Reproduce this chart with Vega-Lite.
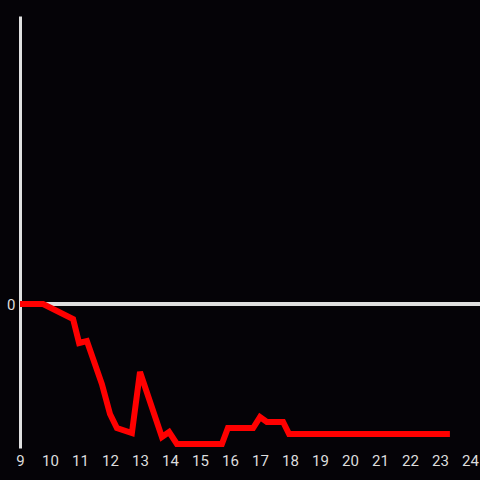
{
  "$schema": "https://vega.github.io/schema/vega-lite/v6.json",
  "width": 460,
  "height": 432,
  "autosize": {"type": "none"},
  "padding": {"left": 20, "top": 16, "right": 0, "bottom": 32},
  "background": "#050307",
  "config": {"view": {"stroke": null}},
  "data": {"values": [
    {"x": 9, "y": 0},
    {"x": 9.77, "y": 0},
    {"x": 10.77, "y": -0.104},
    {"x": 10.97, "y": -0.271},
    {"x": 11.23, "y": -0.257},
    {"x": 11.73, "y": -0.556},
    {"x": 12.0, "y": -0.764},
    {"x": 12.23, "y": -0.861},
    {"x": 12.73, "y": -0.896},
    {"x": 13.0, "y": -0.472},
    {"x": 13.73, "y": -0.924},
    {"x": 13.97, "y": -0.889},
    {"x": 14.23, "y": -0.972},
    {"x": 15.73, "y": -0.972},
    {"x": 15.93, "y": -0.861},
    {"x": 16.77, "y": -0.861},
    {"x": 17.0, "y": -0.785},
    {"x": 17.23, "y": -0.819},
    {"x": 17.77, "y": -0.819},
    {"x": 17.97, "y": -0.903},
    {"x": 23.33, "y": -0.903}
  ]},
  "layer": [
    {
      "mark": {"type": "rule", "color": "#e0e0e0", "strokeWidth": 3},
      "encoding": {"y": {"datum": 0, "type": "quantitative", "scale": {"domain": [-1, 2]}}}
    },
    {
      "mark": {"type": "line", "color": "#ff0000", "strokeWidth": 6, "strokeJoin": "miter"},
      "encoding": {
        "x": {"field": "x", "type": "quantitative",
          "scale": {"domain": [9, 24.333], "nice": false, "zero": false},
          "axis": {"values": [9,10,11,12,13,14,15,16,17,18,19,20,21,22,23,24], "format": "d", "domain": false, "ticks": false, "grid": false, "title": null, "labelColor": "#dddddd", "labelFontSize": 15, "labelFont": "Roboto", "labelPadding": 5, "labelFlush": false, "labelOverlap": false}},
        "y": {"field": "y", "type": "quantitative",
          "scale": {"domain": [-1, 2], "nice": false, "zero": false},
          "axis": {"values": [0], "format": "d", "domain": true, "domainColor": "#e0e0e0", "domainWidth": 3, "ticks": false, "grid": false, "title": null, "labelColor": "#dddddd", "labelFontSize": 15, "labelFont": "Roboto", "labelPadding": 5}}
      }
    }
  ]
}
